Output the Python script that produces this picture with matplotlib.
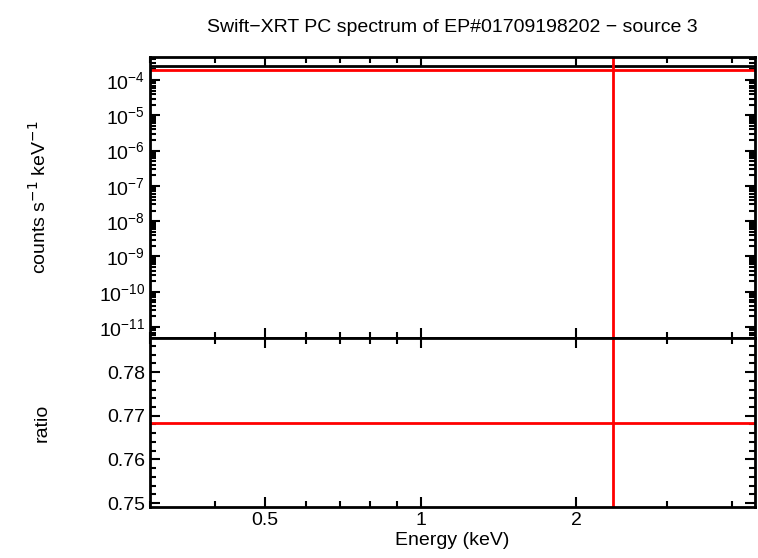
import matplotlib
matplotlib.use("Agg")
import matplotlib.pyplot as plt
from matplotlib.ticker import FixedLocator, NullFormatter, LogLocator, MultipleLocator

plt.rcParams["font.family"] = "Liberation Sans"

x_range = [0.3, 4.43]
spec_yrange = [4.9e-12, 4.5e-4]
ratio_yrange = [0.7491, 0.7878]
model_level = [2.5e-4]
data_level = [1.93e-4]
ratio_level = [0.7683]
data_energy = [2.36]
xticks = [0.5, 1, 2]
xticklabels = ["0.5", "1", "2"]
ratio_ticks = [0.75, 0.76, 0.77, 0.78]

fig = plt.figure(figsize=(7.58, 5.58), dpi=100)
W, H = 758, 558
L, R, T, M, B = 150, 755, 57, 338, 507
ax1 = fig.add_axes([L/W, 1-M/H, (R-L)/W, (M-T)/H])
ax2 = fig.add_axes([L/W, 1-B/H, (R-L)/W, (B-M)/H], sharex=ax1)

for ax in (ax1, ax2):
    ax.set_xscale("log")
    ax.set_xlim(*x_range)
    for s in ax.spines.values():
        s.set_linewidth(2)
    ax.tick_params(which="both", direction="in", top=True, right=True, labelsize=14, width=1.5)
    ax.tick_params(which="major", length=7)
    ax.tick_params(which="minor", length=4)
    ax.xaxis.set_major_locator(FixedLocator(xticks))
    ax.xaxis.set_minor_locator(FixedLocator([0.3,0.4,0.6,0.7,0.8,0.9,3,4]))
    ax.xaxis.set_minor_formatter(NullFormatter())

ax1.set_yscale("log")
ax1.set_ylim(*spec_yrange)
ax1.yaxis.set_major_locator(LogLocator(base=10, numticks=20))
ax1.yaxis.set_minor_locator(LogLocator(base=10, subs=range(2, 10), numticks=20))
ax1.yaxis.set_minor_formatter(NullFormatter())
plt.setp(ax1.get_xticklabels(), visible=False)
ax1.axhline(model_level[0], color="black", lw=2)
ax1.axhline(data_level[0], color="red", lw=2)
ax1.axvline(data_energy[0], color="red", lw=2)
ax1.set_ylabel("counts s$^{-1}$ keV$^{-1}$", fontsize=14)
ax1.set_title("Swift\u2212XRT PC spectrum of EP#01709198202 \u2212 source 3", fontsize=14, pad=18)

ax2.set_ylim(*ratio_yrange)
ax2.yaxis.set_major_locator(FixedLocator(ratio_ticks))
ax2.yaxis.set_minor_locator(MultipleLocator(0.002))
ax2.axhline(ratio_level[0], color="red", lw=2)
ax2.axvline(data_energy[0], color="red", lw=2)
ax2.set_xticklabels(xticklabels)
ax2.set_ylabel("ratio", fontsize=14)
ax2.set_xlabel("Energy (keV)", fontsize=14, labelpad=2)
ax1.yaxis.set_label_coords(-0.165, 0.5)
ax2.yaxis.set_label_coords(-0.165, 0.5)

fig.savefig("out.png", dpi=100)
